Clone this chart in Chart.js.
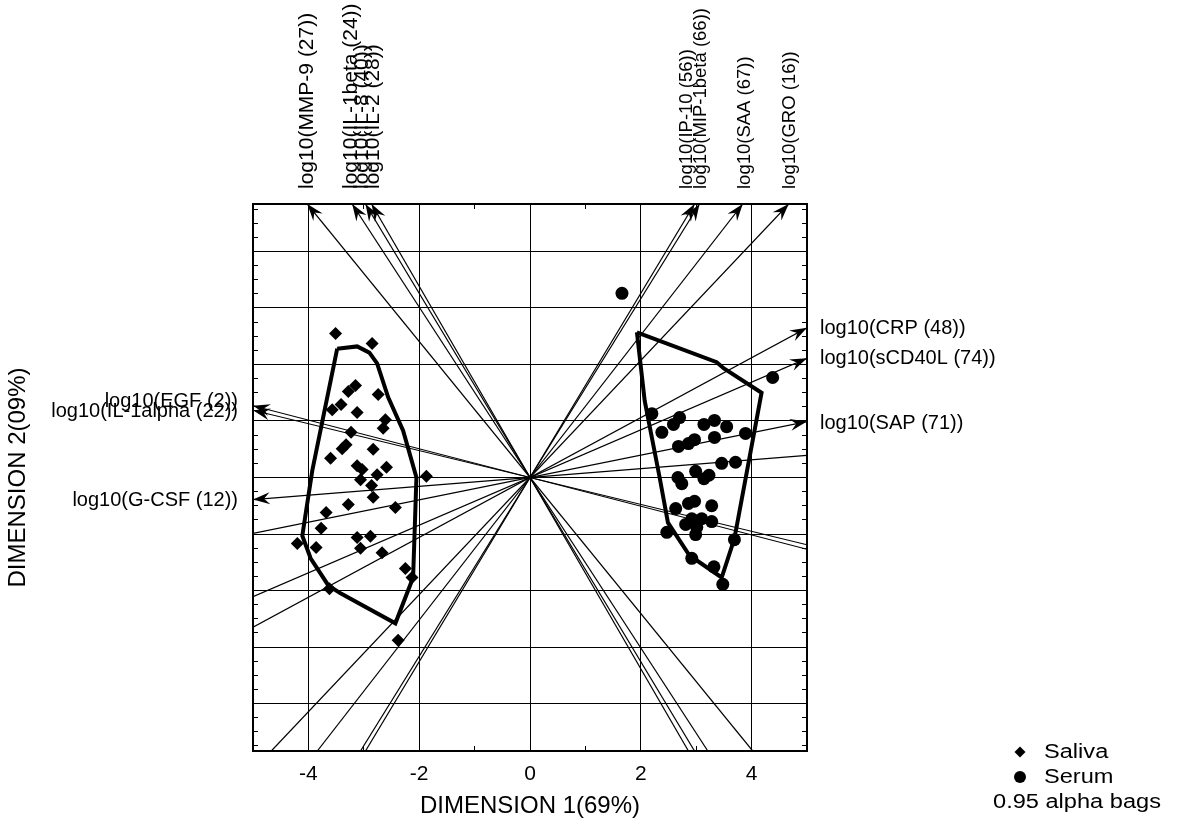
<!DOCTYPE html>
<html>
<head>
<meta charset="utf-8">
<script src="https://cdn.jsdelivr.net/npm/chart.js@4.4.1/dist/chart.umd.min.js"></script>
<style>
  html, body { margin: 0; padding: 0; background: #fff; }
  #wrap { width: 1194px; height: 833px; position: relative; }
</style>
</head>
<body>
<div id="wrap"><canvas id="biplot"></canvas></div>
<script>
/* global Chart */

// ---- data ----
const salivaX = [-3.51, -2.85, -3.15, -3.28, -2.74, -3.41, -3.57, -3.12, -2.61, -2.65, -3.23, -3.32, -3.39,
  -2.83, -3.60, -3.12, -3.03, -2.59, -2.76, -3.06, -1.87, -2.86, -2.83, -3.28, -2.43, -3.68, -3.77, -3.12,
  -2.88, -3.06, -4.20, -3.86, -2.67, -2.25, -2.13, -3.62, -2.38];
const salivaY = [2.55, 2.37, 1.63, 1.52, 1.47, 1.29, 1.20, 1.15, 1.02, 0.87, 0.80, 0.58, 0.51,
  0.50, 0.34, 0.21, 0.14, 0.18, 0.05, -0.04, 0.02, -0.14, -0.35, -0.48, -0.53, -0.62, -0.90, -1.06,
  -1.04, -1.25, -1.17, -1.24, -1.33, -1.61, -1.77, -1.97, -2.88];

const serumX = [1.66, 4.38, 2.20, 2.70, 2.59, 2.38, 3.14, 3.33, 3.55, 3.89, 3.33, 2.97, 2.86, 2.68,
  3.46, 3.71, 2.99, 3.23, 3.14, 2.67, 2.74, 2.97, 2.86, 3.28, 2.63, 2.92, 3.10, 3.28, 2.81, 3.01,
  2.99, 2.47, 3.69, 2.92, 3.32, 3.48];
const serumY = [3.26, 1.77, 1.13, 1.06, 0.94, 0.80, 0.94, 1.01, 0.90, 0.78, 0.71, 0.67, 0.60, 0.55,
  0.25, 0.27, 0.11, 0.04, -0.02, 0.00, -0.11, -0.42, -0.46, -0.50, -0.55, -0.73, -0.73, -0.78, -0.83, -0.88,
  -1.01, -0.97, -1.10, -1.43, -1.58, -1.89];

// 0.95 alpha bags (closed outlines)
const salivaBagX = [-3.48, -3.12, -2.90, -2.76, -2.56, -2.29, -2.05, -2.11, -2.43, -3.42, -3.64, -3.96, -4.11, -3.93];
const salivaBagY = [2.28, 2.32, 2.21, 2.02, 1.42, 0.83, 0.00, -1.77, -2.58, -2.05, -1.91, -1.43, -1.03, 0.12];
const serumBagX = [1.93, 3.37, 3.50, 4.18, 3.69, 3.46, 2.88, 2.49, 2.34, 2.07];
const serumBagY = [2.57, 2.04, 1.93, 1.50, -1.08, -1.77, -1.38, -0.80, 0.00, 1.36];

// variable axes: arrow tip of each (line runs through the origin to the opposite edge)
const varNames = ['log10(MMP-9 (27))', 'log10(IL-1beta (24))', 'log10(IL-8 (40))', 'log10(IL-2 (28))',
  'log10(IP-10 (56))', 'log10(MIP-1beta (66))', 'log10(SAA (67))', 'log10(GRO (16))',
  'log10(CRP (48))', 'log10(sCD40L (74))', 'log10(SAP (71))',
  'log10(EGF (2))', 'log10(IL-1alpha (22))', 'log10(G-CSF (12))'];
const varX = [-4.02, -3.21, -2.97, -2.86, 2.97, 3.06, 3.84, 4.67, 5, 5, 5, -5, -5, -5];
const varY = [4.84, 4.84, 4.84, 4.84, 4.84, 4.84, 4.84, 4.84, 2.65, 2.11, 0.99, 1.27, 1.19, -0.39];

const xTickValues = [-4, -2, 0, 2, 4];
const yGridValues = [-4, -3, -2, -1, 0, 1, 2, 3, 4];

// ---- styling ----
const FONT = "'Liberation Sans', Arial, Helvetica, sans-serif";
const INK = '#000';
// small label shifts so stacked labels sit as in the original
const labelNudge = [0, -1, -3, 2, -8, 1, 2, 1, 1, 0, 2, -4, 1, 1];

const pts = (xs, ys) => xs.map((x, i) => ({ x, y: ys[i] }));
const closed = (xs, ys) => { const p = pts(xs, ys); p.push(p[0]); return p; };
const stepTicks = (lo, hi, step) => {
  const out = [];
  for (let v = lo; v <= hi + 1e-9; v += step) out.push({ value: +v.toFixed(4) });
  return out;
};

const datasets = [
  {
    label: 'Saliva', data: pts(salivaX, salivaY),
    pointStyle: 'rectRot', pointRadius: 6.5, pointBorderWidth: 0,
    backgroundColor: INK, borderColor: INK
  },
  {
    label: 'Serum', data: pts(serumX, serumY),
    pointStyle: 'circle', pointRadius: 6.5, pointBorderWidth: 0,
    backgroundColor: INK, borderColor: INK
  },
  {
    label: 'Saliva bag', data: closed(salivaBagX, salivaBagY), showLine: true,
    pointRadius: 0, borderWidth: 4, borderColor: INK, borderJoinStyle: 'miter', tension: 0
  },
  {
    label: 'Serum bag', data: closed(serumBagX, serumBagY), showLine: true,
    pointRadius: 0, borderWidth: 4, borderColor: INK, borderJoinStyle: 'miter', tension: 0
  }
];
varNames.forEach((name, k) => {
  datasets.push({
    label: name, varIndex: k,
    data: [{ x: -varX[k], y: -varY[k] }, { x: varX[k], y: varY[k] }],
    showLine: true, pointRadius: 0, borderWidth: 1.2, borderColor: INK
  });
});

// arrow heads at the tip of each variable line
const arrowHeads = {
  id: 'arrowHeads',
  afterDatasetsDraw(chart) {
    const ctx = chart.ctx;
    ctx.save();
    ctx.fillStyle = INK;
    chart.data.datasets.forEach((ds, i) => {
      if (ds.varIndex === undefined) return;
      const [p0, p1] = chart.getDatasetMeta(i).data;
      const ang = Math.atan2(p1.y - p0.y, p1.x - p0.x);
      const ux = Math.cos(ang), uy = Math.sin(ang);
      const L = 17, W = 6, N = 11;
      ctx.beginPath();
      ctx.moveTo(p1.x, p1.y);
      ctx.lineTo(p1.x - L * ux - W * uy, p1.y - L * uy + W * ux);
      ctx.lineTo(p1.x - N * ux, p1.y - N * uy);
      ctx.lineTo(p1.x - L * ux + W * uy, p1.y - L * uy - W * ux);
      ctx.closePath();
      ctx.fill();
    });
    ctx.restore();
  }
};

// variable names next to the arrow tips
const varLabels = {
  id: 'varLabels',
  afterDraw(chart) {
    const { ctx, chartArea: a } = chart;
    ctx.save();
    ctx.fillStyle = INK;
    ctx.textBaseline = 'middle';
    chart.data.datasets.forEach((ds, i) => {
      if (ds.varIndex === undefined) return;
      const k = ds.varIndex;
      const tip = chart.getDatasetMeta(i).data[1];
      if (Math.abs(tip.y - a.top) < 2) {
        // names above the frame read upwards; the left group is set a bit larger
        const size = tip.x < (a.left + a.right) / 2 ? 21 : 18.5;
        ctx.font = `${size}px ${FONT}`;
        ctx.save();
        ctx.translate(tip.x + labelNudge[k], a.top - 15);
        ctx.rotate(-Math.PI / 2);
        ctx.textAlign = 'left';
        ctx.fillText(varNames[k], 0, 0);
        ctx.restore();
      } else if (tip.x > (a.left + a.right) / 2) {
        ctx.font = `20px ${FONT}`;
        ctx.textAlign = 'left';
        ctx.fillText(varNames[k], a.right + 13, tip.y + labelNudge[k]);
      } else {
        ctx.font = `20px ${FONT}`;
        ctx.textAlign = 'right';
        ctx.fillText(varNames[k], a.left - 15, tip.y + labelNudge[k]);
      }
    });
    ctx.restore();
  }
};

// legend in the lower right corner
const cornerLegend = {
  id: 'cornerLegend',
  afterDraw(chart) {
    const ctx = chart.ctx;
    const w = chart.width, h = chart.height;
    const sx = w - 174, tx = w - 150;
    const text = (str, x, y) => {
      ctx.save();
      ctx.translate(x, y);
      ctx.scale(1.18, 1);
      ctx.fillText(str, 0, 0);
      ctx.restore();
    };
    ctx.save();
    ctx.fillStyle = INK;
    ctx.font = `20px ${FONT}`;
    ctx.textBaseline = 'middle';
    ctx.textAlign = 'left';
    // diamond
    const r = 5.5, dy = h - 81;
    ctx.beginPath();
    ctx.moveTo(sx, dy - r); ctx.lineTo(sx + r, dy);
    ctx.lineTo(sx, dy + r); ctx.lineTo(sx - r, dy);
    ctx.closePath(); ctx.fill();
    text('Saliva', tx, dy);
    // circle
    ctx.beginPath(); ctx.arc(sx, h - 56, 6, 0, Math.PI * 2); ctx.fill();
    text('Serum', tx, h - 56);
    text('0.95 alpha bags', w - 201, h - 31);
    ctx.restore();
  }
};

const tickFont = { family: FONT, size: 21 };
const titleFont = { family: FONT, size: 24 };

new Chart(document.getElementById('biplot').getContext('2d'), {
  type: 'scatter',
  data: { datasets },
  options: {
    responsive: true,
    maintainAspectRatio: false,
    animation: false,
    layout: { padding: { top: 204, right: 387, bottom: 0, left: 0 } },
    plugins: { legend: { display: false }, tooltip: { enabled: false } },
    scales: {
      x: {
        type: 'linear', position: 'bottom', weight: 1, min: -5, max: 5,
        afterBuildTicks: s => { s.ticks = xTickValues.map(v => ({ value: v })); },
        afterFit: s => { s.height = 82; },
        grid: { color: INK, lineWidth: 1, drawTicks: false },
        border: { color: INK, width: 2 },
        ticks: { color: INK, font: tickFont, padding: 11 },
        title: { display: true, text: 'DIMENSION 1(69%)', color: INK, font: titleFont, padding: { top: 0, bottom: 12 } }
      },
      xMinorB: {
        type: 'linear', position: 'bottom', weight: 0, min: -5, max: 5,
        afterBuildTicks: s => { s.ticks = stepTicks(-4, 4, 1); },
        afterFit: s => { s.height = 0; },
        grid: { drawOnChartArea: false, tickLength: -5, color: INK },
        border: { display: false },
        ticks: { display: false }
      },
      xMinorT: {
        type: 'linear', position: 'top', min: -5, max: 5,
        afterBuildTicks: s => { s.ticks = stepTicks(-4, 4, 1); },
        afterFit: s => { s.height = 0; },
        grid: { drawOnChartArea: false, tickLength: -5, color: INK },
        border: { color: INK, width: 2 },
        ticks: { display: false }
      },
      y: {
        type: 'linear', position: 'left', weight: 1, min: -4.84, max: 4.84,
        afterBuildTicks: s => { s.ticks = yGridValues.map(v => ({ value: v })); },
        afterFit: s => { s.width = 253; },
        grid: { color: INK, lineWidth: 1, drawTicks: false },
        border: { color: INK, width: 2 },
        ticks: { display: false },
        title: { display: true, text: 'DIMENSION 2(09%)', color: INK, font: titleFont, padding: { top: 4, bottom: 0 } }
      },
      yMinorL: {
        type: 'linear', position: 'left', weight: 0, min: -4.84, max: 4.84,
        afterBuildTicks: s => { s.ticks = stepTicks(-4.75, 4.75, 0.25); },
        afterFit: s => { s.width = 0; },
        grid: { drawOnChartArea: false, tickLength: -5, color: INK },
        border: { display: false },
        ticks: { display: false }
      },
      yMinorR: {
        type: 'linear', position: 'right', min: -4.84, max: 4.84,
        afterBuildTicks: s => { s.ticks = stepTicks(-4.75, 4.75, 0.25); },
        afterFit: s => { s.width = 0; },
        grid: { drawOnChartArea: false, tickLength: -5, color: INK },
        border: { color: INK, width: 2 },
        ticks: { display: false }
      }
    }
  },
  plugins: [arrowHeads, varLabels, cornerLegend]
});
</script>
</body>
</html>
